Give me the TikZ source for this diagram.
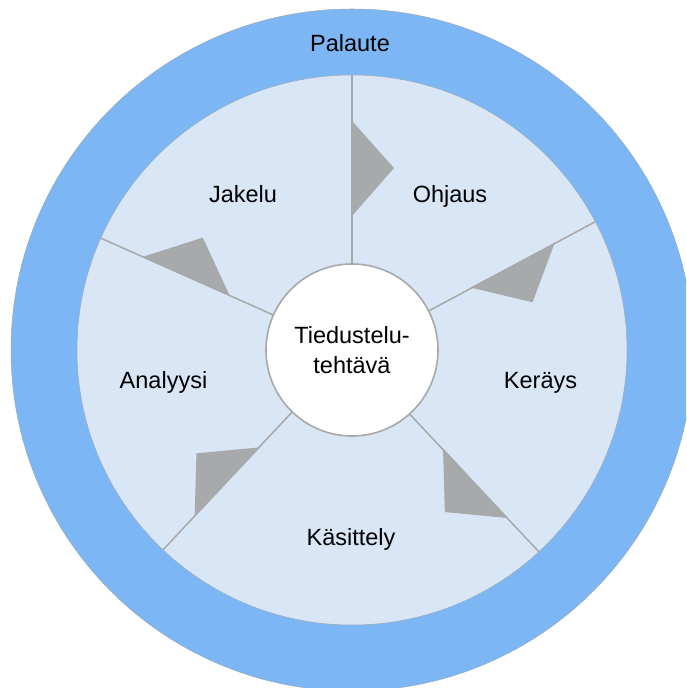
\documentclass[tikz,border=0pt]{standalone}
\usepackage{fontspec}
\setmainfont{Liberation Sans}
\usetikzlibrary{calc}
\definecolor{ringblue}{HTML}{7CB6F4}
\definecolor{paleblue}{HTML}{D9E6F5}
\definecolor{trigray}{HTML}{A7A9AB}
\definecolor{linegray}{HTML}{A8A8A8}
\definecolor{edgegray}{HTML}{9AAAB8}
\tikzset{
  divider/.style={draw=linegray, line width=1.5pt},
  arrowtri/.style={fill=trigray},
  lbl/.style={font=\fontsize{23.5}{30}\selectfont, anchor=base, inner sep=0pt},
  hub/.style={circle, draw=linegray, line width=1.6pt, fill=white, minimum size=172pt, inner sep=0pt, align=center, font=\fontsize{23.5}{30}\selectfont}
}
\begin{document}
\begin{tikzpicture}[x=1pt,y=1pt]
\useasboundingbox (0,0) rectangle (686,688);
\clip (0,0) rectangle (686,688);
\coordinate (O) at (352,338);
\filldraw[fill=ringblue, draw=edgegray, line width=0.5pt] (O) circle (341pt);
\filldraw[fill=paleblue, draw=edgegray, line width=0.5pt] (O) circle (275pt);
\node[hub] (c) at (O) {Tiedustelu-\\tehtävä};
\foreach \a [count=\i] in {90,27.8,312.8,226.6,156} {
  \coordinate (e\i) at ($(O)+(\a:275)$);
  \draw[divider] (c.\a) -- (e\i);
  \coordinate (t\i a) at ($(O)+(\a:134)$);
  \coordinate (t\i b) at ($(O)+(\a:229)$);
  \coordinate (t\i c) at ($(O)+(\a:182)+(\a-90:42)$);
  \fill[arrowtri] (t\i a) -- (t\i b) -- (t\i c) -- cycle;
}
\node[lbl] (palaute) at (350,636) {Palaute};
\node[lbl] (jakelu) at (243,485) {Jakelu};
\node[lbl] (ohjaus) at (450,485) {Ohjaus};
\node[lbl] (analyysi) at (163.5,299) {Analyysi};
\node[lbl] (kerays) at (540.5,299) {Keräys};
\node[lbl] (kasittely) at (351,142) {Käsittely};
\end{tikzpicture}
\end{document}
